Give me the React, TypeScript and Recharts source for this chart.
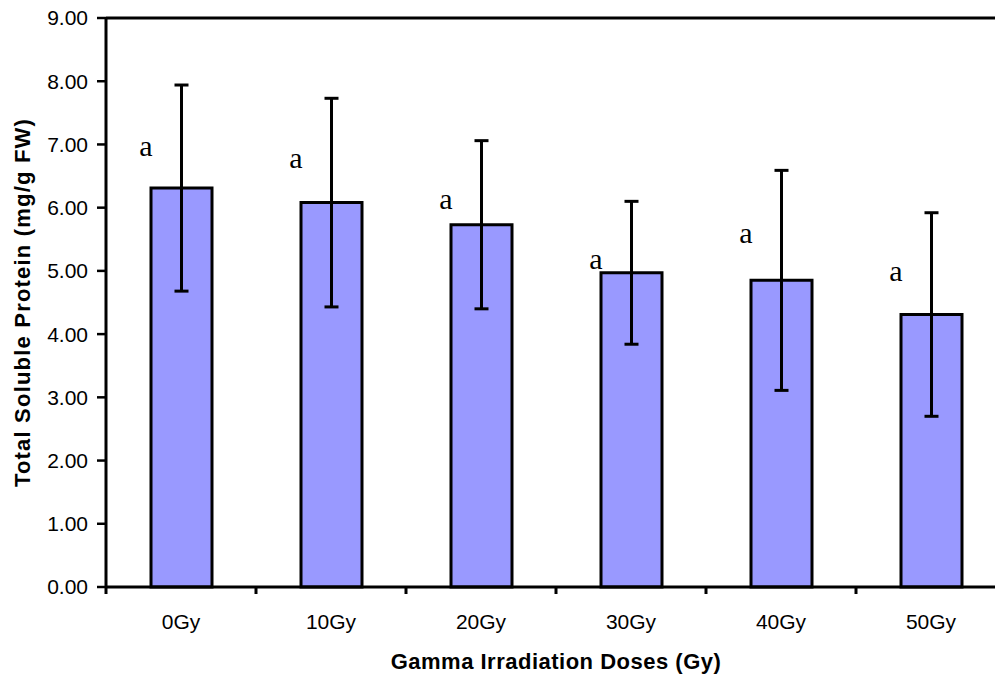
import { ComposedChart, Bar, ErrorBar, Line, XAxis, YAxis, ReferenceLine } from "recharts"

const doses = ["0Gy", "10Gy", "20Gy", "30Gy", "40Gy", "50Gy"]
const protein = [6.31, 6.08, 5.73, 4.97, 4.85, 4.31]
const stdErr = [1.63, 1.65, 1.33, 1.13, 1.74, 1.61]
const letters = ["a", "a", "a", "a", "a", "a"]
const letterAt = [6.99, 6.8, 6.14, 5.2, 5.6, 5.0]
const yTicks = [0, 1, 2, 3, 4, 5, 6, 7, 8, 9]

const data = doses.map((d, i) => ({
  dose: d,
  value: protein[i],
  err: stdErr[i],
  letter: letters[i],
  labelAt: letterAt[i],
}))

const sans = "'Liberation Sans', Arial, sans-serif"

// excel-style: tick marks sit between categories, label at the centre
function DoseTick(props: any) {
  const { x, y, payload, width, visibleTicksCount } = props
  const band = width / visibleTicksCount
  const left = x - band / 2
  return (
    <g>
      <line x1={left} y1={y} x2={left} y2={y + 7} stroke="#000" strokeWidth={3} />
      <text x={x} y={y + 27} dy="0.71em" textAnchor="middle" fill="#000" fontSize={21} fontFamily={sans}>
        {payload.value}
      </text>
    </g>
  )
}

function LetterDot(props: any) {
  const { cx, cy, payload } = props
  if (cx == null || cy == null) return null
  return (
    <text
      x={cx - 35}
      y={cy}
      textAnchor="middle"
      dominantBaseline="central"
      fontFamily="'Liberation Serif', 'Times New Roman', serif"
      fontSize={30}
      fill="#000"
    >
      {payload.letter}
    </text>
  )
}

export default function App() {
  return (
    <div
      style={{
        position: "fixed",
        top: 0,
        left: 0,
        width: 995,
        height: 678,
        overflow: "hidden",
        background: "#fff",
      }}
    >
      <ComposedChart width={1012} height={678} data={data} margin={{ top: 18, right: 6, left: 0, bottom: 0 }}>
        <XAxis
          dataKey="dose"
          height={91}
          axisLine={{ stroke: "#000", strokeWidth: 3 }}
          tickLine={false}
          tickSize={0}
          tickMargin={0}
          interval={0}
          tick={<DoseTick />}
          label={{
            value: "Gamma Irradiation Doses (Gy)",
            position: "insideBottom",
            offset: 9,
            fill: "#000",
            fontSize: 22,
            fontWeight: "bold",
            fontFamily: sans,
            letterSpacing: 0.5,
          }}
        />
        <YAxis
          width={106}
          domain={[0, 9]}
          ticks={yTicks}
          interval={0}
          axisLine={{ stroke: "#000", strokeWidth: 3 }}
          tickLine={{ stroke: "#000", strokeWidth: 2.5 }}
          tickSize={9}
          tickMargin={9}
          tickFormatter={(v: number) => v.toFixed(2)}
          tick={{ fill: "#000", fontSize: 21, fontFamily: sans }}
          label={{
            value: "Total Soluble Protein (mg/g FW)",
            angle: -90,
            position: "center",
            dx: -31,
            fill: "#000",
            fontSize: 22,
            fontWeight: "bold",
            fontFamily: sans,
            letterSpacing: 1.2,
          }}
        />
        <ReferenceLine y={9} stroke="#000" strokeWidth={3} />
        <Bar dataKey="value" barSize={61} fill="#9999ff" stroke="#000" strokeWidth={3} isAnimationActive={false}>
          <ErrorBar dataKey="err" width={7} stroke="#000" strokeWidth={3} />
        </Bar>
        <Line dataKey="labelAt" stroke="none" dot={<LetterDot />} activeDot={false} isAnimationActive={false} />
      </ComposedChart>
    </div>
  )
}
